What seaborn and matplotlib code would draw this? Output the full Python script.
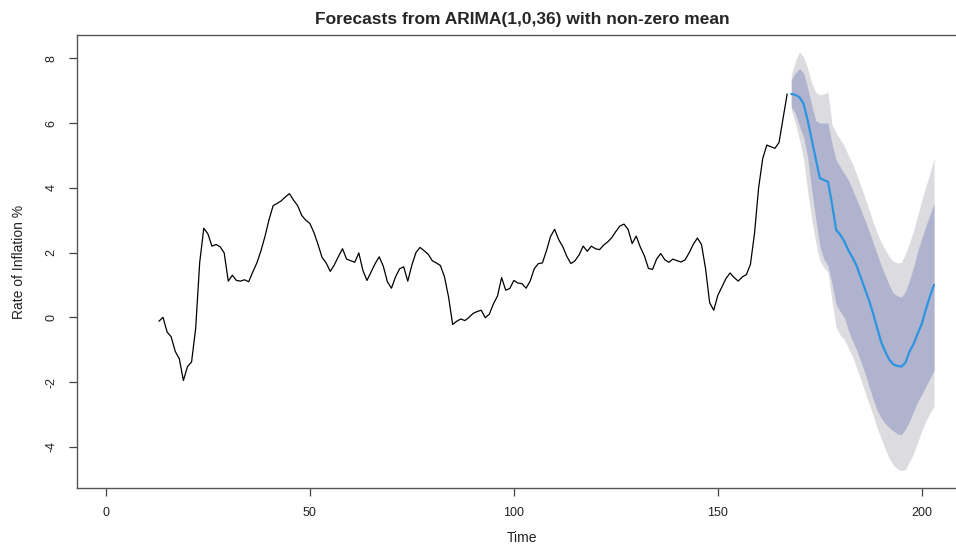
import numpy as np
import pandas as pd
import matplotlib
matplotlib.use("Agg")
import matplotlib.pyplot as plt
import seaborn as sns

# ---- data ----
hist_start = 13
history = [
    -0.12, 0.00, -0.45, -0.60, -1.05, -1.28, -1.95, -1.52, -1.38, -0.35,   # 13-22
    1.70, 2.75, 2.58, 2.20, 2.25, 2.18, 1.99, 1.12, 1.30, 1.14,            # 23-32
    1.12, 1.16, 1.10, 1.40, 1.68, 2.05, 2.50, 3.02, 3.45, 3.52,            # 33-42
    3.60, 3.72, 3.82, 3.62, 3.45, 3.15, 3.00, 2.90, 2.62, 2.25,            # 43-52
    1.85, 1.68, 1.42, 1.62, 1.88, 2.12, 1.80, 1.75, 1.70, 1.99,            # 53-62
    1.45, 1.14, 1.40, 1.66, 1.87, 1.58, 1.10, 0.90, 1.25, 1.50,            # 63-72
    1.56, 1.12, 1.61, 2.00, 2.16, 2.06, 1.95, 1.75, 1.68, 1.60,            # 73-82
    1.25, 0.63, -0.22, -0.12, -0.05, -0.10, 0.00, 0.12, 0.18, 0.22,        # 83-92
    -0.01, 0.10, 0.42, 0.66, 1.23, 0.84, 0.89, 1.14, 1.06, 1.04,           # 93-102
    0.90, 1.12, 1.50, 1.66, 1.68, 2.06, 2.50, 2.72, 2.40, 2.18,            # 103-112
    1.88, 1.66, 1.75, 1.93, 2.20, 2.04, 2.20, 2.12, 2.09, 2.23,            # 113-122
    2.33, 2.46, 2.65, 2.82, 2.88, 2.72, 2.28, 2.51, 2.17, 1.90,            # 123-132
    1.51, 1.48, 1.80, 1.97, 1.78, 1.70, 1.80, 1.75, 1.71, 1.78,            # 133-142
    2.00, 2.26, 2.45, 2.25, 1.50, 0.45, 0.22, 0.68, 0.94, 1.20,            # 143-152
    1.37, 1.23, 1.12, 1.25, 1.32, 1.64, 2.60, 4.00, 4.90, 5.32,            # 153-162
    5.27, 5.22, 5.40, 6.15, 6.90,                                          # 163-167
]

fc_start = 168
fc_mean = [
    6.90, 6.87, 6.80, 6.60, 6.10, 5.50, 4.90, 4.30, 4.24, 4.19,
    3.50, 2.70, 2.55, 2.35, 2.07, 1.85, 1.60, 1.25, 0.90, 0.55,
    0.15, -0.30, -0.75, -1.05, -1.30, -1.45, -1.50, -1.52, -1.40, -1.05,
    -0.82, -0.50, -0.20, 0.25, 0.65, 1.00,
]
hi95 = [
    7.50, 7.90, 8.20, 8.05, 7.70, 7.25, 6.95, 6.87, 6.90, 6.95,
    5.95, 5.70, 5.50, 5.30, 5.00, 4.75, 4.42, 4.07, 3.72, 3.35,
    2.97, 2.62, 2.32, 2.10, 1.88, 1.73, 1.68, 1.70, 1.97, 2.30,
    2.69, 3.15, 3.62, 4.05, 4.45, 4.90,
]
hi80 = [
    7.33, 7.55, 7.68, 7.55, 7.10, 6.55, 6.08, 6.00, 6.00, 6.00,
    5.35, 4.85, 4.65, 4.45, 4.24, 3.95, 3.65, 3.35, 3.02, 2.69,
    2.33, 1.97, 1.62, 1.30, 1.00, 0.75, 0.66, 0.63, 0.80, 1.15,
    1.55, 2.05, 2.45, 2.82, 3.18, 3.52,
]
lo80 = [
    6.50, 6.30, 5.90, 5.58, 4.95, 3.95, 3.05, 2.20, 1.80, 1.60,
    1.04, 0.40, 0.18, 0.00, -0.40, -0.72, -1.00, -1.35, -1.70, -2.10,
    -2.50, -2.85, -3.10, -3.27, -3.40, -3.50, -3.60, -3.62, -3.45, -3.20,
    -2.90, -2.60, -2.38, -2.13, -1.88, -1.64,
]
lo95 = [
    6.40, 6.00, 5.50, 4.90, 3.90, 3.05, 2.30, 1.75, 1.55, 1.38,
    0.50, -0.30, -0.55, -0.68, -0.95, -1.20, -1.55, -1.90, -2.27, -2.65,
    -3.00, -3.40, -3.72, -4.05, -4.35, -4.55, -4.68, -4.73, -4.70, -4.45,
    -4.20, -3.85, -3.50, -3.20, -2.95, -2.75,
]
x_ticks = [0, 50, 100, 150, 200]
y_ticks = [-4, -2, 0, 2, 4, 6, 8]
title = "Forecasts from ARIMA(1,0,36) with non-zero mean"
x_label = "Time"
y_label = "Rate of Inflation %"

hist_df = pd.DataFrame({"Time": np.arange(hist_start, hist_start + len(history)),
                        "value": history})
fc_df = pd.DataFrame({"Time": np.arange(fc_start, fc_start + len(fc_mean)),
                      "mean": fc_mean, "hi95": hi95, "lo95": lo95,
                      "hi80": hi80, "lo80": lo80})

sns.set_style("white")
plt.rcParams["font.family"] = ["Liberation Sans", "DejaVu Sans"]

W, H = 956, 548
fig = plt.figure(figsize=(W / 100, H / 100), dpi=100)
ax = fig.add_axes([77 / W, 1 - 488 / H, 890 / W, 453 / H])

ax.fill_between(fc_df["Time"], fc_df["lo95"], fc_df["hi95"],
                color="#DBDBE0", linewidth=0, zorder=1)
ax.fill_between(fc_df["Time"], fc_df["lo80"], fc_df["hi80"],
                color="#B0B3CE", linewidth=0, zorder=2)
sns.lineplot(data=hist_df, x="Time", y="value", ax=ax, color="black",
             linewidth=0.9, zorder=3)
sns.lineplot(data=fc_df, x="Time", y="mean", ax=ax, color="#2D94E0",
             linewidth=1.6, zorder=4)

ax.set_xlim(-7.08, 211.08)
ax.set_ylim(-5.27, 8.72)
ax.set_xticks(x_ticks)
ax.set_yticks(y_ticks)
ax.set_xticklabels([str(v) for v in x_ticks], fontsize=9, color="#222222")
ax.set_yticklabels([str(v) for v in y_ticks], fontsize=9, color="#222222",
                   rotation=90, va="center")
ax.tick_params(axis="both", which="both", direction="out", length=6,
               width=0.9, color="#444444", bottom=True, left=True, pad=8)
for s in ["left", "bottom", "top"]:
    ax.spines[s].set_visible(True)
    ax.spines[s].set_color("#555555")
    ax.spines[s].set_linewidth(1.0)
ax.spines["right"].set_visible(False)

ax.set_xlabel(x_label, fontsize=10, color="#222222", labelpad=8)
ax.set_ylabel(y_label, fontsize=10, color="#222222", labelpad=14)
ax.set_title(title, fontsize=12.5, fontweight="bold", pad=8)

fig.savefig("out.png", dpi=100)
